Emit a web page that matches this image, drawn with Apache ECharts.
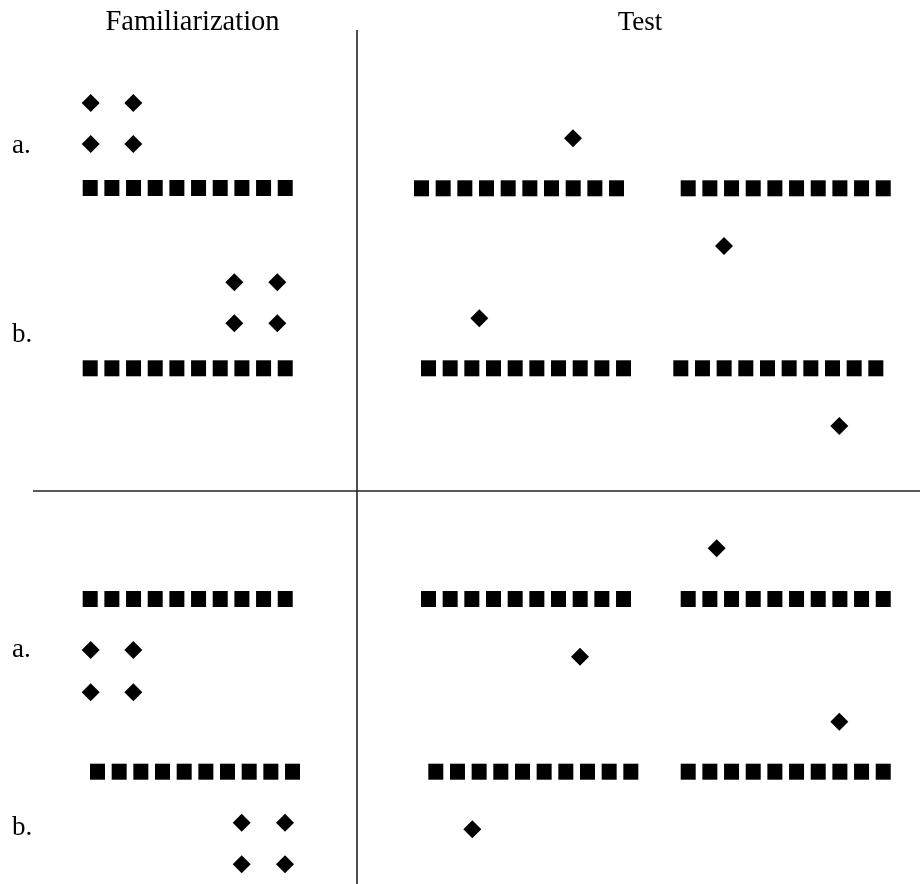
<!DOCTYPE html>
<html>
<head>
<meta charset="utf-8">
<script src="https://cdn.jsdelivr.net/npm/echarts@6/dist/echarts.min.js"></script>
<style>html,body{margin:0;padding:0;background:#fff;}#chart{width:920px;height:884px;}</style>
</head>
<body>
<div id="chart"></div>
<script>
// Column headings: [text, x, y, font size]
const headings = [["Familiarization", 192.5, 22.5, 28.5], ["Test", 640, 22.5, 27]];
// Row labels: [text, x, y]
const rowLabels = [["a.", 12, 145.5], ["b.", 12, 334.5], ["a.", 12, 649.5], ["b.", 12, 827.5]];
// Slots of a row of ten squares
const squareSlots = [0, 1, 2, 3, 4, 5, 6, 7, 8, 9];
const squarePitch = 21.67;
// Square rows: [first square centre x, y]
const squareRows = [
  [90.2, 188], [421.5, 188.3], [688.2, 188.3],
  [90.2, 368.3], [428.5, 368.3], [680.8, 368.3],
  [90.2, 599], [428.5, 599], [688.2, 599],
  [97.5, 771.7], [435.8, 771.7], [688.2, 771.7]
];
// Diamonds: [x, y]
const diamonds = [
  [90.7, 103], [133.3, 103], [90.7, 144], [133.3, 144],
  [573, 138.3], [724, 246],
  [234.3, 282.3], [277.3, 282.3], [234.3, 323.3], [277.3, 323.3],
  [479.3, 318.3], [839.3, 426],
  [90.7, 650], [133.3, 650], [90.7, 692.3], [133.3, 692.3],
  [241.7, 822.7], [285, 822.7], [241.7, 864.3], [285, 864.3],
  [716.7, 548.3], [580, 656.7], [839.3, 721.7], [472.3, 829.3]
];
// Divider lines
const vDivider = [[357, 30], [357, 884]];
const hDivider = [[33, 491], [920, 491]];

const squares = [];
squareRows.forEach(r => squareSlots.forEach(s => squares.push([r[0] + s * squarePitch, r[1]])));

const chart = echarts.init(document.getElementById("chart"));
chart.setOption({
  animation: false,
  backgroundColor: "#fff",
  grid: { left: 0, right: 0, top: 0, bottom: 0 },
  xAxis: { type: "value", min: 0, max: 920, show: false },
  yAxis: { type: "value", min: 0, max: 884, inverse: true, show: false },
  series: [
    { type: "line", data: vDivider, symbol: "none", lineStyle: { color: "#222", width: 1.6, opacity: 1 } },
    { type: "line", data: hDivider, symbol: "none", lineStyle: { color: "#222", width: 1.6, opacity: 1 } },
    { type: "scatter", data: squares, symbol: "rect", symbolSize: [15, 16], itemStyle: { color: "#000", opacity: 1 } },
    { type: "scatter", data: diamonds, symbol: "diamond", symbolSize: [18, 18], itemStyle: { color: "#000", opacity: 1 } },
    {
      type: "scatter", symbolSize: 0, itemStyle: { opacity: 1 },
      data: headings.map(h => ({ value: [h[1], h[2]], name: h[0], label: { fontSize: h[3] } })),
      label: { show: true, position: "inside", formatter: p => p.name, align: "center", verticalAlign: "middle",
               fontFamily: "Liberation Serif", color: "#000", opacity: 1 }
    },
    {
      type: "scatter", symbolSize: 0, itemStyle: { opacity: 1 },
      data: rowLabels.map(h => ({ value: [h[1], h[2]], name: h[0] })),
      label: { show: true, position: "inside", formatter: p => p.name, align: "left", verticalAlign: "middle",
               fontFamily: "Liberation Serif", fontSize: 27, color: "#000", opacity: 1 }
    }
  ]
});
</script>
</body>
</html>
